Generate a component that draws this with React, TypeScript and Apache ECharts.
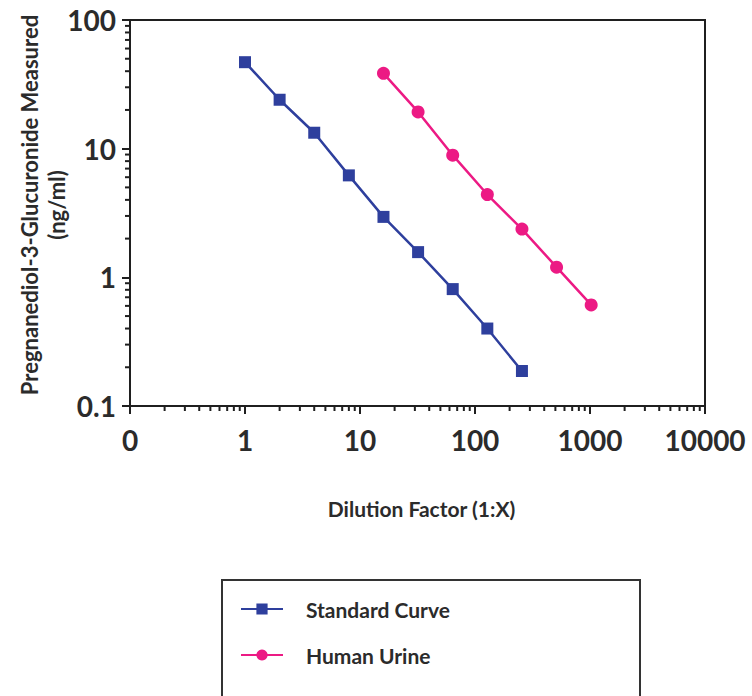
import React, { useEffect, useRef } from "react";
import * as echarts from "echarts";

const standardX = [1, 2, 4, 8, 16, 32, 64, 128, 256];
const standardY = [47, 24, 13.3, 6.2, 2.95, 1.57, 0.81, 0.4, 0.187];
const urineX = [16, 32, 64, 128, 256, 512, 1024];
const urineY = [38.5, 19.3, 8.9, 4.4, 2.37, 1.2, 0.61];
const xTickLabels = ["0", "1", "10", "100", "1000", "10000"];
const yTickLabels = ["0.1", "1", "10", "100"];
const seriesNames = ["Standard Curve", "Human Urine"];

const X_MIN = 0.1, X_MAX = 10000, Y_MIN = 0.1, Y_MAX = 100;

function minorTicks(min: number, max: number): number[] {
  const out: number[] = [];
  for (let d = min; d < max * 0.999; d *= 10) {
    for (let k = 2; k <= 9; k++) out.push(+(d * k).toPrecision(6));
  }
  return out;
}

const TEXT = "#2b2b2b";
const AXIS = "#1f1f1f";
const FONT = "Lato, 'Open Sans', sans-serif";
const BLUE = "#2e3f9d";
const PINK = "#ec1a84";

const legendText = {
  fontSize: 21,
  fontWeight: "bold",
  color: TEXT,
  fontFamily: FONT,
  lineHeight: 22,
  padding: [0, 0, 0, 18],
};

export default function App() {
  const ref = useRef<HTMLDivElement>(null);
  useEffect(() => {
    if (!ref.current) return;
    const chart = echarts.init(ref.current, undefined, { renderer: "svg" });
    const xMinor = minorTicks(X_MIN, X_MAX).map((v) => [v, Y_MIN]);
    const yMinor = minorTicks(Y_MIN, Y_MAX).map((v) => [X_MIN, v]);
    chart.setOption({
      animation: false,
      backgroundColor: "#ffffff",
      textStyle: { fontFamily: FONT },
      grid: {
        left: 130,
        right: 47,
        top: 20,
        bottom: 290,
        show: true,
        borderColor: AXIS,
        borderWidth: 2,
        containLabel: false,
        outerBoundsMode: "none",
      },
      graphic: [
        {
          type: "rect",
          shape: { x: 222, y: 580, width: 418, height: 140 },
          style: { fill: "none", stroke: "#333", lineWidth: 2 },
          silent: true,
        },
      ],
      legend: [
        {
          orient: "vertical",
          left: 240,
          top: 598,
          data: [seriesNames[0]],
          itemWidth: 42,
          itemHeight: 14,
          padding: 0,
          textStyle: legendText,
        },
        {
          orient: "vertical",
          left: 240,
          top: 644,
          data: [seriesNames[1]],
          itemWidth: 42,
          itemHeight: 14,
          padding: 0,
          textStyle: legendText,
        },
      ],
      xAxis: {
        type: "log",
        logBase: 10,
        min: X_MIN,
        max: X_MAX,
        name: "Dilution Factor (1:X)",
        nameLocation: "middle",
        nameGap: 92,
        nameMoveOverlap: false,
        nameTextStyle: { fontSize: 21, fontWeight: "bold", color: TEXT, fontFamily: FONT, padding: [0, 0, 0, 8] },
        axisLine: { lineStyle: { color: AXIS, width: 2 } },
        axisTick: { length: 8, lineStyle: { color: AXIS, width: 2 } },
        axisLabel: {
          margin: 20,
          fontSize: 28,
          fontWeight: "bold",
          color: TEXT,
          fontFamily: FONT,
          formatter: (v: number) => xTickLabels[Math.round(Math.log10(v)) + 1] ?? "",
        },
        splitLine: { show: false },
      },
      yAxis: {
        type: "log",
        logBase: 10,
        min: Y_MIN,
        max: Y_MAX,
        name: "Pregnanediol-3-Glucuronide Measured\n(ng/ml)",
        nameLocation: "middle",
        nameGap: 60,
        nameMoveOverlap: false,
        nameTextStyle: { fontSize: 22, fontWeight: "bold", color: TEXT, fontFamily: FONT, lineHeight: 27, padding: [0, 0, 0, 16] },
        axisLine: { lineStyle: { color: AXIS, width: 2 } },
        axisTick: { length: 8, lineStyle: { color: AXIS, width: 2 } },
        axisLabel: {
          margin: 14,
          fontSize: 28,
          fontWeight: "bold",
          color: TEXT,
          fontFamily: FONT,
          formatter: (v: number) => yTickLabels[Math.round(Math.log10(v)) + 1] ?? "",
        },
        splitLine: { show: false },
      },
      series: [
        {
          name: seriesNames[0],
          type: "line",
          data: standardX.map((x, i) => [x, standardY[i]]),
          symbol: "rect",
          symbolSize: 12,
          color: BLUE,
          lineStyle: { width: 2.5, color: BLUE },
          itemStyle: { color: BLUE },
          z: 3,
        },
        {
          name: seriesNames[1],
          type: "line",
          data: urineX.map((x, i) => [x, urineY[i]]),
          symbol: "circle",
          symbolSize: 13,
          color: PINK,
          lineStyle: { width: 2.5, color: PINK },
          itemStyle: { color: PINK },
          z: 3,
        },
        {
          type: "custom",
          silent: true,
          clip: false,
          data: xMinor,
          renderItem: (_p: any, api: any) => {
            const pt = api.coord([api.value(0), api.value(1)]);
            return {
              type: "line",
              shape: { x1: pt[0], y1: pt[1], x2: pt[0], y2: pt[1] + 5 },
              style: { stroke: AXIS, lineWidth: 2 },
            };
          },
        },
        {
          type: "custom",
          silent: true,
          clip: false,
          data: yMinor,
          renderItem: (_p: any, api: any) => {
            const pt = api.coord([api.value(0), api.value(1)]);
            return {
              type: "line",
              shape: { x1: pt[0], y1: pt[1], x2: pt[0] - 5, y2: pt[1] },
              style: { stroke: AXIS, lineWidth: 2 },
            };
          },
        },
      ],
    });
    return () => chart.dispose();
  }, []);
  return (
    <div
      ref={ref}
      style={{ position: "fixed", left: 0, top: 0, width: 752, height: 696 }}
    />
  );
}
